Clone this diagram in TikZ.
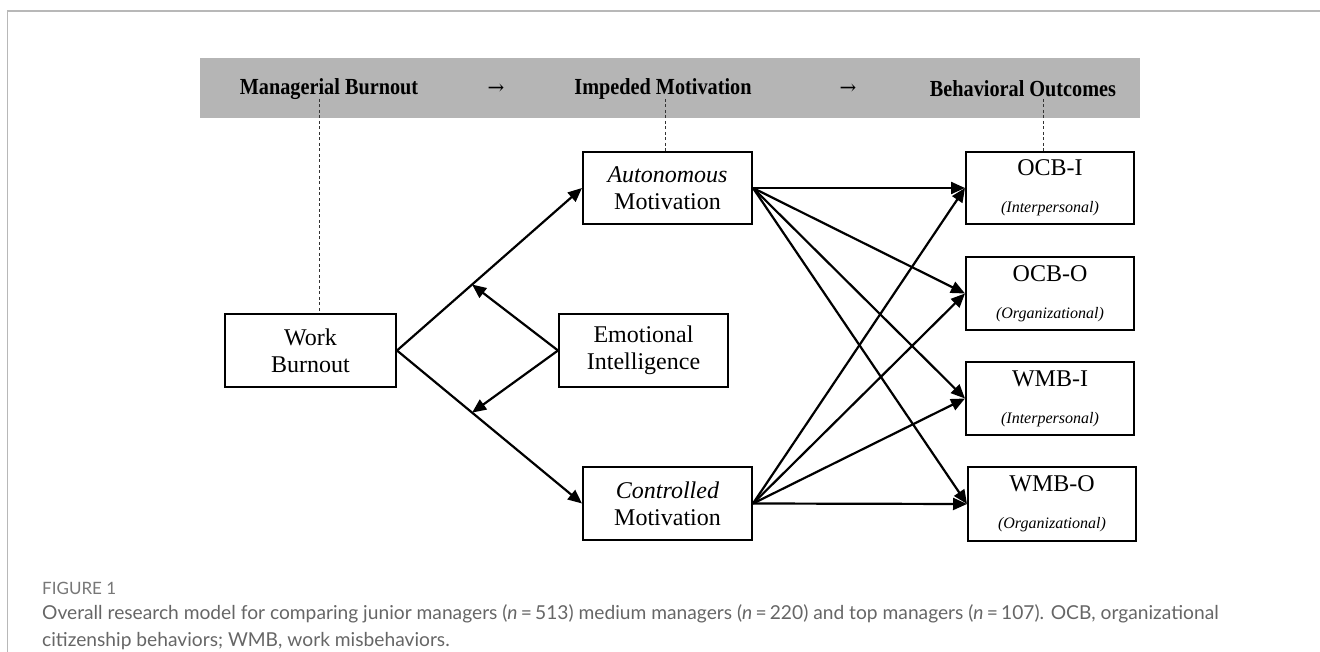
\documentclass[tikz,border=0pt]{standalone}
\usepackage{fontspec}
\setmainfont{Liberation Serif}
\newfontfamily\capfont{Lato}
\newfontfamily\arrfont{DejaVu Serif}
\usetikzlibrary{arrows.meta,calc}
\definecolor{bannergray}{HTML}{B5B5B5}
\definecolor{framegray}{HTML}{B8B8B8}
\definecolor{captiongray}{HTML}{666666}
\definecolor{figgray}{HTML}{777777}
\tikzset{
  box/.style={draw=black, line width=2pt, inner sep=0pt, align=center,
    font=\fontsize{24}{27}\selectfont},
  headtext/.style={font=\fontsize{23}{24}\selectfont\bfseries, inner sep=0pt, xscale=0.88, transform shape},
  headarrow/.style={font=\arrfont\fontsize{20}{22}\selectfont, inner sep=0pt},
  guide/.style={draw=black!80, line width=0.9pt, dash pattern=on 3pt off 2.5pt},
  link/.style={draw=black, line width=2.2pt, -{Triangle[length=14pt,width=12pt]}},
  captext/.style={font=\capfont\fontsize{19.2}{27.5}\selectfont, text=captiongray, anchor=west, inner sep=0pt, align=left},
}
\newcommand{\subl}[1]{\\[10pt]{\fontsize{16}{18}\selectfont\itshape #1}}
\begin{document}
\begin{tikzpicture}[x=1pt,y=-1pt]
\useasboundingbox (0,0) rectangle (1320,652);
% frame
\draw[framegray, line width=1.5pt] (7.5,652) -- (7.5,11) -- (1320,11);
% banner
\fill[bannergray] (200,58) rectangle (1140,118);
\node[headtext] (h1) at (329,89) {Managerial Burnout};
\node[headarrow] (a1) at (496,89) {→};
\node[headtext] (h2) at (663,89) {Impeded Motivation};
\node[headarrow] (a2) at (848,89) {→};
\node[headtext] (h3) at (1023,89) {Behavioral Outcomes};
% nodes
\node[box, minimum width=171pt, minimum height=73pt] (wb) at (310.5,350.5) {Work\\Burnout};
\node[box, minimum width=169pt, minimum height=73pt] (ei) at (643.5,350.5) {Emotional\\Intelligence};
\node[box, minimum width=169pt, minimum height=72pt] (am) at (667.5,188) {\textit{Autonomous}\\Motivation};
\node[box, minimum width=169pt, minimum height=73pt] (cm) at (667.5,503.5) {\textit{Controlled}\\Motivation};
\node[box, minimum width=168pt, minimum height=72pt] (oi) at (1050,188) {OCB-I\subl{(Interpersonal)}};
\node[box, minimum width=168pt, minimum height=73pt] (oo) at (1050,293.5) {OCB-O\subl{(Organizational)}};
\node[box, minimum width=168pt, minimum height=73pt] (wi) at (1050,398.5) {WMB-I\subl{(Interpersonal)}};
\node[box, minimum width=168pt, minimum height=74pt] (wo) at (1052,504) {WMB-O\subl{(Organizational)}};
% guides
\coordinate (g1) at (319,99);
\coordinate (g2) at (665,99);
\coordinate (g3) at (1043,99);
\draw[guide] (g1) -- (g1 |- wb.north);
\draw[guide] (g2) -- (g2 |- am.north);
\draw[guide] (g3) -- (g3 |- oi.north);
% paths
\draw[link] (wb.east) -- (am.west);
\draw[link] (wb.east) -- (cm.west);
\coordinate (mu) at ($(wb.east)!0.406!(am.west)$);
\coordinate (ml) at ($(wb.east)!0.406!(cm.west)$);
\draw[link] (ei.west) -- (mu);
\draw[link] (ei.west) -- (ml);
\foreach \t in {oi,oo,wi,wo}{
  \draw[link] (am.east) -- (\t.west);
  \draw[link] (cm.east) -- (\t.west);
}
% caption
\node[captext, text=figgray, font=\capfont\fontsize{17}{20}\selectfont] (fig) at (42,588) {FIGURE 1};
\node[captext, anchor=north west] (cap) at (42,604) {Overall research model for comparing junior managers (\textit{n}\,=\,513) medium managers (\textit{n}\,=\,220) and top managers (\textit{n}\,=\,107). OCB, organizational\\citizenship behaviors; WMB, work misbehaviors.};
\end{tikzpicture}
\end{document}
